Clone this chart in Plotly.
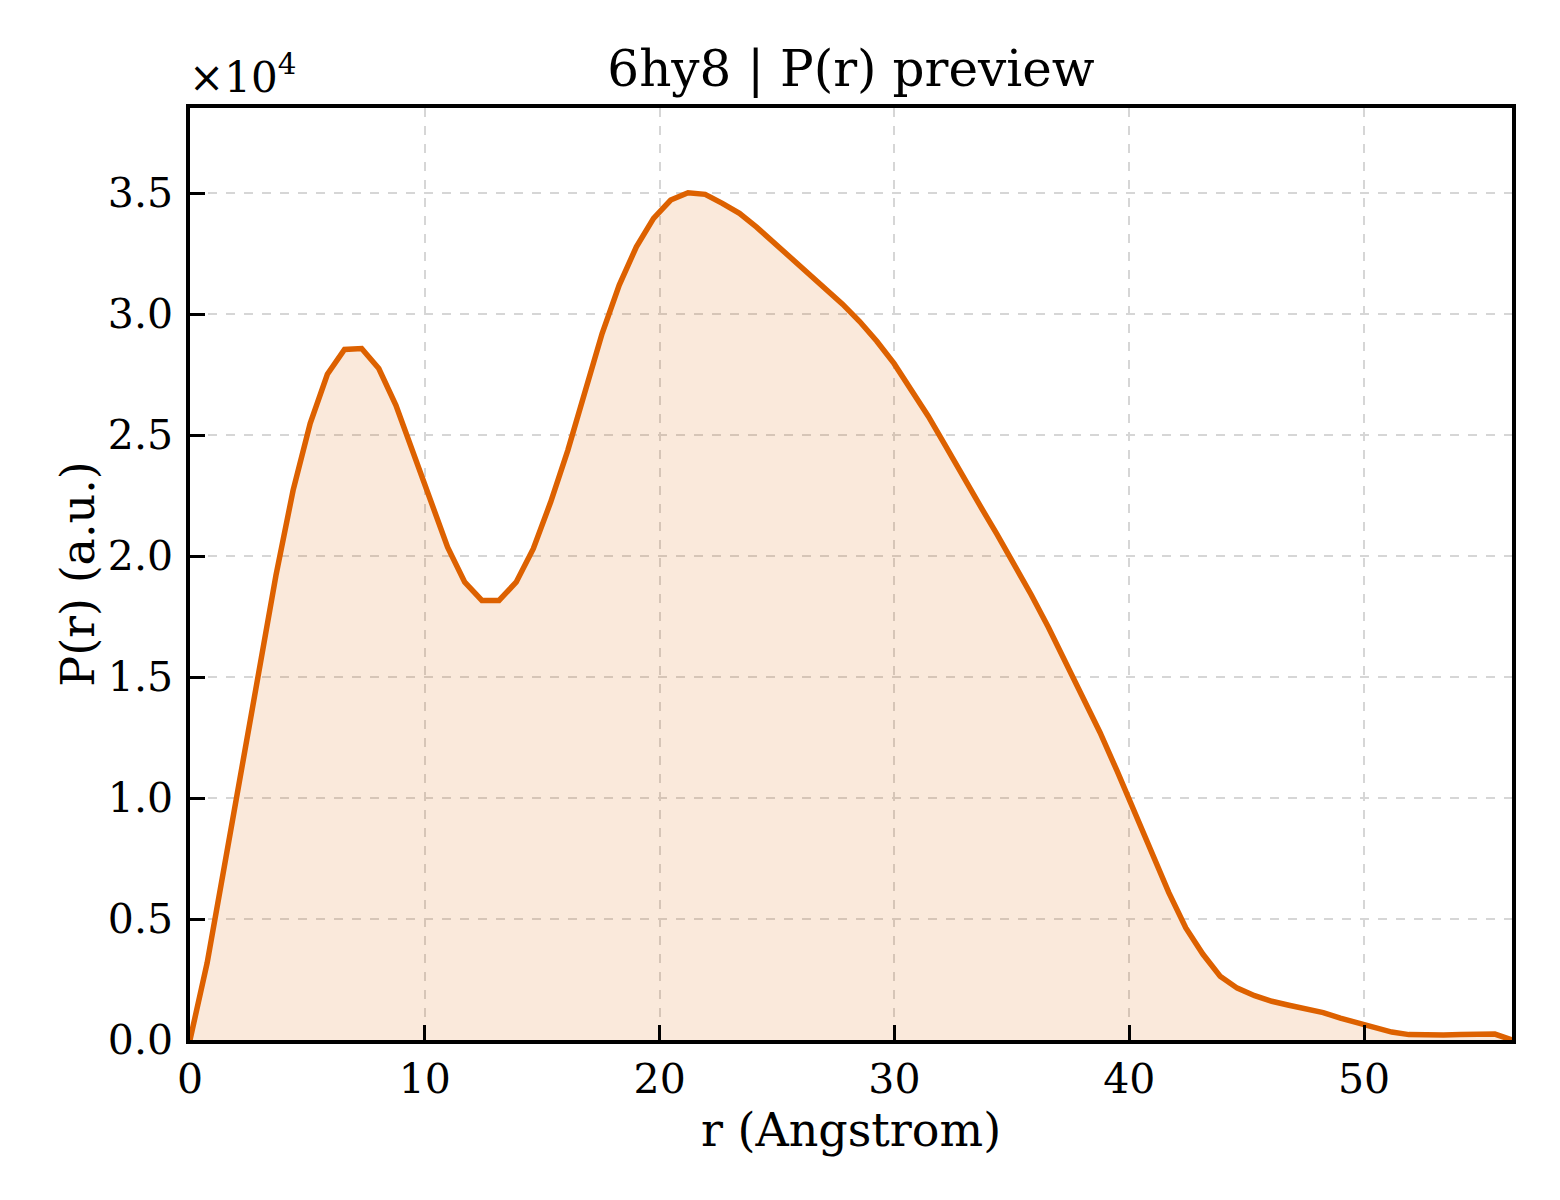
import plotly.graph_objects as go

# P(r) distribution
r = [0.00, 0.73, 1.46, 2.19, 2.92, 3.66, 4.39, 5.12, 5.85, 6.58,
     7.31, 8.04, 8.77, 9.51, 10.24, 10.97, 11.70, 12.43, 13.16, 13.89,
     14.62, 15.36, 16.09, 16.82, 17.55, 18.28, 19.01, 19.74, 20.47, 21.21,
     21.94, 22.67, 23.40, 24.13, 24.86, 25.59, 26.32, 27.05, 27.79, 28.52,
     29.25, 29.98, 30.71, 31.44, 32.17, 32.90, 33.64, 34.37, 35.10, 35.83,
     36.56, 37.29, 38.02, 38.75, 39.49, 40.22, 40.95, 41.68, 42.41, 43.14,
     43.87, 44.60, 45.34, 46.07, 46.80, 47.53, 48.26, 48.99, 49.72, 50.45,
     51.18, 51.91, 52.64, 53.38, 54.11, 54.84, 55.57, 56.30]
pr = [0, 3186, 7157, 11087, 15059, 19196, 22712, 25484, 27511, 28533,
      28574, 27747, 26229, 24297, 22299, 20367, 18919, 18164, 18164, 18919,
      20301, 22229, 24367, 26766, 29195, 31193, 32778, 33952, 34710, 35012,
      34945, 34573, 34159, 33592, 32959, 32315, 31710, 31090, 30407, 29690,
      28876, 27958, 26900, 25780, 24560, 23300, 22088, 20896, 19671, 18389,
      17049, 15609, 14165, 12717, 11100, 9450, 7760, 6100, 4633, 3541,
      2635, 2143, 1829, 1601, 1436, 1299, 1134, 902, 703, 501,
      327, 223, 194, 207, 228, 248, 244, 0]

x_ticks = [0, 10, 20, 30, 40, 50]
y_ticks = [0, 5000, 10000, 15000, 20000, 25000, 30000, 35000]
y_ticktext = ["0.0", "0.5", "1.0", "1.5", "2.0", "2.5", "3.0", "3.5"]

orange = "#dd6100"
serif = "DejaVu Serif"

fig = go.Figure()
fig.add_trace(go.Scatter(
    x=r, y=pr, mode="lines", fill="tozeroy",
    fillcolor="rgba(221,97,0,0.14)",
    line=dict(color=orange, width=5.5),
))

axis_common = dict(
    showline=True, linecolor="black", linewidth=3.5, mirror=True,
    ticks="inside", ticklen=15, tickwidth=3, tickcolor="black",
    showgrid=True, gridcolor="#d6d6d6", gridwidth=1.5, griddash="dash",
    zeroline=False, tickfont=dict(family=serif, size=41, color="black"),
)

# page body has an 8px margin, so the figure is a little smaller than the window
fig.update_layout(
    width=1552, height=1192,
    margin=dict(l=182, r=48, t=100, b=160),
    plot_bgcolor="white", paper_bgcolor="white",
    showlegend=False,
    font=dict(family=serif, color="black"),
    title=dict(text="6hy8 | P(r) preview", x=0.5, xanchor="center",
               xref="paper", yref="container", y=1 - 60 / 1192,
               yanchor="middle", font=dict(family=serif, size=50)),
    xaxis=dict(axis_common, range=[0, 56.3], tickvals=x_ticks,
               ticklabelstandoff=0,
               title=dict(text="r (Angstrom)", font=dict(size=46), standoff=13)),
    yaxis=dict(axis_common, range=[0, 38513], tickvals=y_ticks,
               ticktext=y_ticktext, ticklabelstandoff=5,
               title=dict(text="P(r) (a.u.)", font=dict(size=46), standoff=0)),
)

fig.add_annotation(text="×10<sup>4</sup>", xref="paper", yref="paper",
                   x=0, y=1, xanchor="left", yanchor="bottom", yshift=4,
                   xshift=-3, showarrow=False,
                   font=dict(family=serif, size=42))

fig.write_html("out.html")
